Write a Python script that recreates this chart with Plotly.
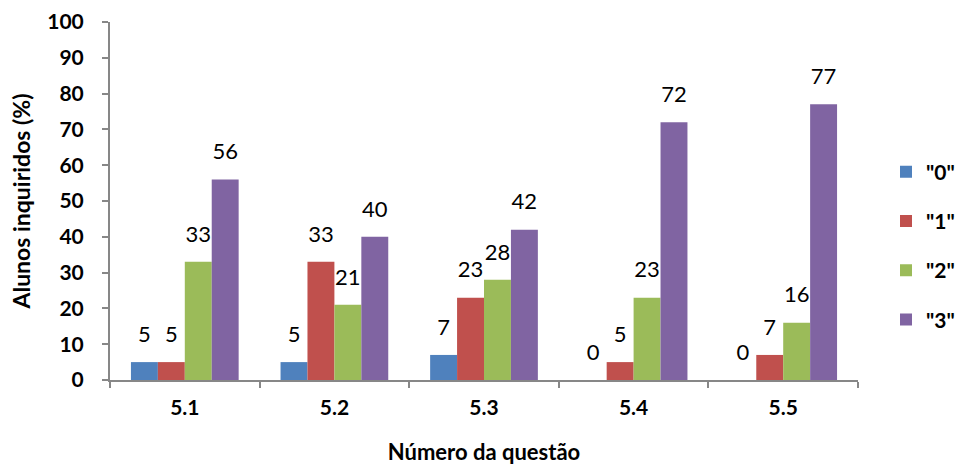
import plotly.graph_objects as go

questions = ["5.1", "5.2", "5.3", "5.4", "5.5"]
series_names = ['"0"', '"1"', '"2"', '"3"']
val_0 = [5, 5, 7, 0, 0]
val_1 = [5, 33, 23, 5, 7]
val_2 = [33, 21, 28, 23, 16]
val_3 = [56, 40, 42, 72, 77]
colors = ["#4F81BD", "#C0504D", "#9BBB59", "#8064A2"]

FONT = "Lato, Open Sans, sans-serif"
GAP = 0.28

fig = go.Figure()
all_vals = [val_0, val_1, val_2, val_3]
for i, (name, vals) in enumerate(zip(series_names, all_vals)):
    fig.add_trace(go.Bar(
        x=questions, y=vals, name=name,
        marker=dict(color=colors[i], line=dict(width=0)),
        legendgroup=f"g{i}", offsetgroup=f"s{i}",
    ))
# value labels: invisible grouped markers sitting on the bar tops,
# with the text placed just above them
for i, vals in enumerate(all_vals):
    fig.add_trace(go.Scatter(
        x=questions, y=vals, mode="markers+text",
        marker=dict(size=22, opacity=0),
        text=[f"{v:.0f}" for v in vals], textposition="top center",
        textfont=dict(size=22, color="black", family=FONT),
        offsetgroup=f"s{i}", showlegend=False, hoverinfo="skip",
        cliponaxis=False,
    ))

fig.update_layout(
    width=962, height=465,
    margin=dict(l=110, r=104, t=22, b=85, autoexpand=False),
    paper_bgcolor="white", plot_bgcolor="white",
    barmode="group", bargap=GAP, bargroupgap=0,
    scattermode="group", scattergap=GAP,
    font=dict(family=FONT, color="black"),
    showlegend=True,
    legend=dict(xref="container", yref="container", x=0.921, y=0.471,
                xanchor="left", yanchor="middle",
                font=dict(size=21, family=FONT, weight="bold"),
                tracegroupgap=19, itemwidth=30),
)
fig.update_xaxes(
    automargin=False,
    showline=True, linecolor="#878787", linewidth=2,
    ticks="outside", tickson="boundaries", ticklen=6, tickcolor="#878787", tickwidth=2,
    tickfont=dict(size=21, weight="bold"), ticklabelstandoff=8,
    title=dict(text="Número da questão", font=dict(size=22, weight="bold"), standoff=28),
    showgrid=False,
)
fig.update_yaxes(
    automargin=False,
    range=[0, 100], dtick=10,
    showline=True, linecolor="#878787", linewidth=2,
    ticks="outside", ticklen=6, tickcolor="#878787", tickwidth=2,
    tickfont=dict(size=21, weight="bold"), ticklabelstandoff=14,
    title=dict(text="Alunos inquiridos (%)", font=dict(size=23, weight="bold"), standoff=10),
    showgrid=False, zeroline=False,
)

fig.write_html("out.html")
